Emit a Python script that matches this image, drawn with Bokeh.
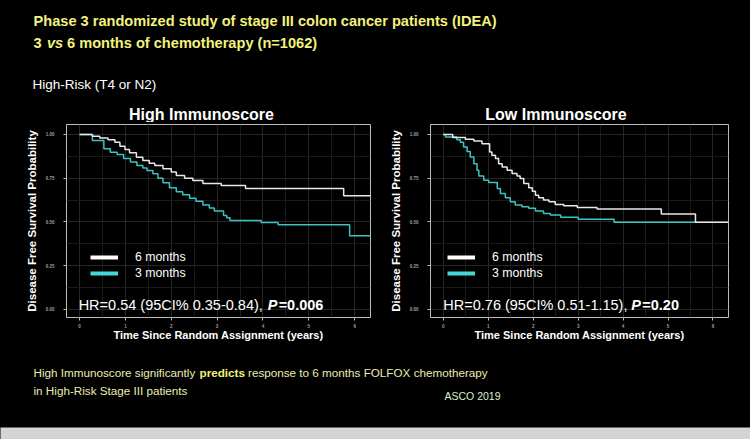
from bokeh.plotting import figure
from bokeh.models import Range1d, Label, Legend, LegendItem, FixedTicker, NumeralTickFormatter
from bokeh.layouts import column, row
from bokeh.embed import file_html
from bokeh.resources import INLINE

# ---------------- data ----------------
x_ticks = [0, 1, 2, 3, 4, 5, 6]
x_minor = [0.5, 1.5, 2.5, 3.5, 4.5, 5.5]
y_ticks = [0.0, 0.25, 0.5, 0.75, 1.0]
y_minor = [0.125, 0.375, 0.625, 0.875]

# High Immunoscore, 6 months
hi6_t = [0, 0.28, 0.44, 0.62, 0.77, 0.88, 0.99, 1.09, 1.24, 1.38, 1.52, 1.64, 1.82, 2.0,
         2.11, 2.29, 2.47, 2.69, 3.09, 3.62, 5.76, 6.35]
hi6_s = [1.0, 0.99, 0.98, 0.97, 0.956, 0.933, 0.914, 0.895, 0.87, 0.851, 0.836, 0.823, 0.804, 0.785,
         0.766, 0.75, 0.737, 0.72, 0.709, 0.691, 0.65, 0.65]
# High Immunoscore, 3 months
hi3_t = [0, 0.28, 0.53, 0.67, 0.82, 0.96, 1.11, 1.25, 1.38, 1.47, 1.6, 1.71, 1.82, 1.96, 2.11,
         2.25, 2.4, 2.54, 2.69, 2.83, 2.94, 3.14, 3.21, 3.28, 3.96, 4.33, 5.89, 6.35]
hi3_s = [1.0, 0.966, 0.918, 0.899, 0.885, 0.862, 0.842, 0.823, 0.808, 0.794, 0.775, 0.75, 0.724,
         0.696, 0.672, 0.655, 0.635, 0.618, 0.597, 0.58, 0.562, 0.537, 0.524, 0.509, 0.497, 0.484,
         0.421, 0.421]
# Low Immunoscore, 6 months
lo6_t = [0, 0.21, 0.49, 0.68, 0.86, 1.03, 1.08, 1.16, 1.23, 1.31, 1.42, 1.53, 1.64, 1.71, 1.79,
         1.9, 1.98, 2.05, 2.12, 2.23, 2.35, 2.49, 2.68, 2.98, 3.42, 4.85, 5.61, 6.35]
lo6_s = [1.0, 0.982, 0.972, 0.962, 0.947, 0.90, 0.881, 0.862, 0.833, 0.814, 0.795, 0.777, 0.763,
         0.748, 0.72, 0.695, 0.676, 0.653, 0.638, 0.625, 0.616, 0.60, 0.593, 0.583, 0.574, 0.545,
         0.498, 0.498]
# Low Immunoscore, 3 months
lo3_t = [0, 0.05, 0.3, 0.38, 0.45, 0.53, 0.6, 0.68, 0.75, 0.79, 0.9, 1.01, 1.2, 1.27, 1.38, 1.49,
         1.6, 1.75, 1.9, 2.05, 2.23, 2.38, 2.61, 3.0, 3.8, 5.61]
lo3_s = [1.0, 0.985, 0.97, 0.956, 0.928, 0.903, 0.871, 0.833, 0.795, 0.763, 0.739, 0.726, 0.691,
         0.663, 0.638, 0.616, 0.597, 0.587, 0.578, 0.563, 0.549, 0.54, 0.527, 0.515, 0.498, 0.498]

series_labels = ["6 months", "3 months"]
panel_titles = ["High Immunoscore", "Low Immunoscore"]
hr_texts = ["HR=0.54 (95CI% 0.35-0.84), ", "HR=0.76 (95CI% 0.51-1.15), "]
p_values = ["=0.006", "=0.20"]

# ---------------- styles ----------------
BG = "black"
WHITE_C = "#e8e8e8"
CYAN_C = "#3cc4c4"
CYAN_LEG = "#45d8d8"
TITLE_Y = "#f2f27c"
TEXT_Y = "#ececb0"
SANS = "'Liberation Sans', Arial, sans-serif"
SHIFT = 4  # baseline correction (px)


def text_fig(w, h):
    f = figure(width=w, height=h, x_range=Range1d(0, w), y_range=Range1d(0, h),
               output_backend="svg", toolbar_location=None, min_border=0,
               background_fill_color=BG, border_fill_color=BG, outline_line_color=None)
    f.axis.visible = False
    f.grid.visible = False
    return f


def lab(f, x, y, text, size, color, style="normal", align="left"):
    f.add_layout(Label(x=x, y=y + SHIFT, x_units="screen", y_units="screen", text=text,
                       text_font=SANS, text_font_size=size, text_color=color,
                       text_font_style=style, text_align=align, text_baseline="alphabetic"))


# ---------------- top text ----------------
TOP_H = 122
top = text_fig(750, TOP_H)
lab(top, 33, TOP_H - 24, "Phase 3 randomized study of stage III colon cancer patients (IDEA)", "14.6px", TITLE_Y, style="bold")
lab(top, 33, TOP_H - 46.7, "3", "14.6px", TITLE_Y, style="bold")
lab(top, 46.5, TOP_H - 46.7, "vs", "14.6px", TITLE_Y, style="bold italic")
lab(top, 66.5, TOP_H - 46.7, "6 months of chemotherapy  (n=1062)", "14.6px", TITLE_Y, style="bold")
lab(top, 32, TOP_H - 88.3, "High-Risk (T4 or N2)", "13.5px", "white")
lab(top, 201, TOP_H - 118.2, panel_titles[0], "16px", "white", style="bold", align="center")
lab(top, 555.5, TOP_H - 118.2, panel_titles[1], "16px", "white", style="bold", align="center")


# ---------------- KM panels ----------------
def km_panel(width, bl, br, t6, s6, t3, s3, hr_text, pv, off_p, off_v, hr_x, leg_x):
    p = figure(width=width, height=223, x_range=Range1d(-0.285, 6.345), y_range=Range1d(-0.046, 1.057),
               output_backend="svg", toolbar_location=None,
               min_border_left=bl, min_border_right=br, min_border_top=2, min_border_bottom=28,
               background_fill_color=BG, border_fill_color=BG,
               outline_line_color="#bdbdbd", outline_line_width=1)
    p.xaxis.ticker = FixedTicker(ticks=x_ticks, minor_ticks=x_minor)
    p.yaxis.ticker = FixedTicker(ticks=y_ticks, minor_ticks=y_minor)
    p.yaxis.formatter = NumeralTickFormatter(format="0.00")
    p.xgrid.grid_line_color = "#262626"
    p.ygrid.grid_line_color = "#262626"
    p.xgrid.minor_grid_line_color = "#1a1a1a"
    p.ygrid.minor_grid_line_color = "#1a1a1a"
    for ax in (p.xaxis[0], p.yaxis[0]):
        ax.axis_line_color = None
        ax.major_tick_line_color = "#bdbdbd"
        ax.major_tick_out = 3
        ax.major_tick_in = 0
        ax.minor_tick_line_color = None
        ax.major_label_text_font = SANS
        ax.major_label_text_font_size = "4.5px"
        ax.major_label_text_font_style = "bold"
        ax.major_label_text_color = "#a0a0a0"
        ax.axis_label_text_font = SANS
        ax.axis_label_text_font_style = "bold"
        ax.axis_label_text_color = "white"
    p.xaxis.axis_label = "Time Since Random Assignment (years)"
    p.xaxis.axis_label_text_font_size = "11px"
    p.xaxis.major_label_standoff = 2
    p.xaxis.axis_label_standoff = -2
    p.yaxis.axis_label = "Disease Free Survival Probability"
    p.yaxis.axis_label_text_font_size = "11.5px"
    p.yaxis.major_label_standoff = 8
    p.yaxis.axis_label_standoff = 5

    p.step(t3, s3, mode="after", line_color=CYAN_C, line_width=1.5)
    p.step(t6, s6, mode="after", line_color=WHITE_C, line_width=1.5)

    nan = float("nan")
    leg6 = p.line(x=[nan], y=[nan], line_color="white", line_width=4)
    leg3 = p.line(x=[nan], y=[nan], line_color=CYAN_LEG, line_width=4)
    legend = Legend(items=[LegendItem(label=series_labels[0], renderers=[leg6]),
                           LegendItem(label=series_labels[1], renderers=[leg3])],
                    location=(leg_x, 37), glyph_width=28, glyph_height=14, label_height=14,
                    label_standoff=17, spacing=2, padding=0, margin=0,
                    border_line_color=None, background_fill_alpha=0,
                    label_text_font=SANS, label_text_font_size="12.3px", label_text_color="white")
    p.add_layout(legend)

    y0 = SHIFT / 175.0
    p.add_layout(Label(x=hr_x, y=y0, text=hr_text, text_font=SANS, text_font_size="14.5px",
                       text_color="white", text_baseline="alphabetic"))
    p.add_layout(Label(x=hr_x, y=y0, x_offset=off_p, text="P", text_font=SANS, text_font_size="14.5px",
                       text_color="white", text_font_style="bold italic", text_baseline="alphabetic"))
    p.add_layout(Label(x=hr_x, y=y0, x_offset=off_v, text=pv, text_font=SANS, text_font_size="14.5px",
                       text_color="white", text_font_style="bold", text_baseline="alphabetic"))
    return p


left = km_panel(380, 66, 10, hi6_t, hi6_s, hi3_t, hi3_s, hr_texts[0], p_values[0], 189, 200, -0.02, 24)
right = km_panel(370, 50, 22, lo6_t, lo6_s, lo3_t, lo3_s, hr_texts[1], p_values[1], 188, 199, 0.0, 17)

# ---------------- bottom text ----------------
BOT_H = 82
bottom = text_fig(750, BOT_H)
lab(bottom, 33, BOT_H - 31, "High Immunoscore significantly", "11.7px", TEXT_Y)
lab(bottom, 199, BOT_H - 31, "predicts", "11.7px", TITLE_Y, style="bold")
lab(bottom, 247.5, BOT_H - 31, "response to 6 months FOLFOX chemotherapy", "11.7px", TEXT_Y)
lab(bottom, 33, BOT_H - 49.3, "in High-Risk Stage III patients", "11.7px", TEXT_Y)
lab(bottom, 500, BOT_H - 54.3, "ASCO 2019", "10.5px", "#d9f0cc", align="right")

band = figure(width=750, height=12, output_backend="svg", toolbar_location=None, min_border=0,
              background_fill_color="#d4d4d4", border_fill_color="#d4d4d4", outline_line_color=None)
band.axis.visible = False
band.grid.visible = False

panels = row(left, right, spacing=0, styles={"background-color": "black"})
layout = column(top, panels, bottom, band, spacing=0, styles={"background-color": "black"})
open("out.html", "w").write(file_html(layout, INLINE))
